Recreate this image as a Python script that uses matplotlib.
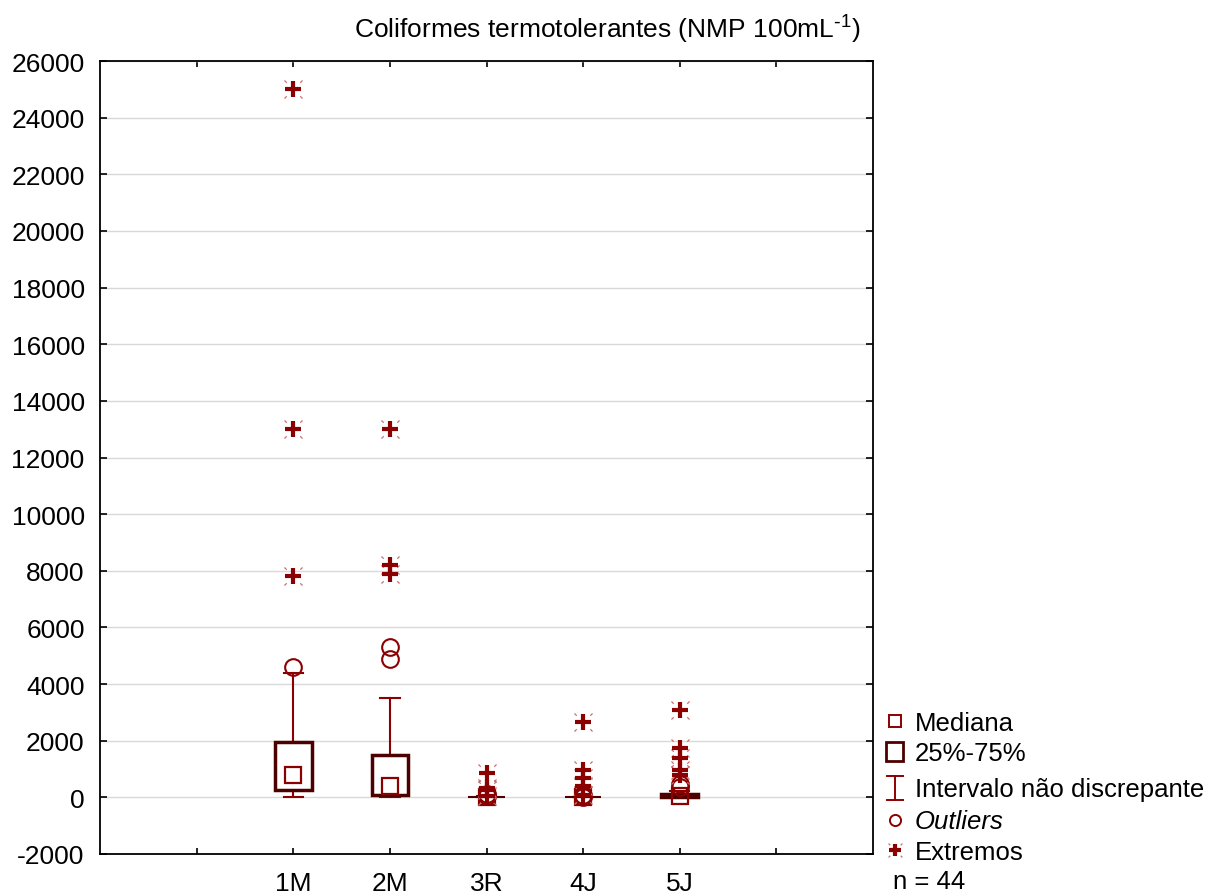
import matplotlib
matplotlib.use("Agg")
import matplotlib.pyplot as plt
from matplotlib.patches import Rectangle
from matplotlib.path import Path

plt.rcParams["font.family"] = ["Liberation Sans", "DejaVu Sans"]
plt.rcParams["mathtext.default"] = "regular"
plt.rcParams["axes.unicode_minus"] = False

# ----------------------------
# Data
# ----------------------------
categories = ["1M", "2M", "3R", "4J", "5J"]
medians = [800, 400, 10, 5, 60]
q1 = [260, 80, 0, 0, 15]
q3 = [1950, 1500, 0, 0, 125]
whisk_lo = [20, 20, 0, 0, 0]
whisk_hi = [4400, 3500, 60, 30, 220]
outliers = [[4600], [5300, 4900], [110, 40], [100, 30], [470, 380]]
extremes = [
    [25000, 13000, 7800],
    [13000, 8200, 7900],
    [850, 320, 250, 40],
    [2650, 950, 670, 390, 80],
    [3100, 1750, 1400, 950, 780],
]
n_total = 44

ylim = (-2000, 26000)
yticks = list(range(-2000, 26001, 2000))

RED = "#8b0000"
DARK = "#4d0000"
DOTS = "#c87070"
FS = 19

# dotted-corner part of the "extremes" marker
corner = Path(
    [(0.75, 0.75), (1, 1), (-0.75, 0.75), (-1, 1), (0.75, -0.75), (1, -1), (-0.75, -0.75), (-1, -1)],
    [Path.MOVETO, Path.LINETO] * 4,
)


def extreme_marker(ax, xs, ys, size=13, **kw):
    ax.plot(xs, ys, ls="none", marker=corner, ms=size, mec=DOTS, mew=0.9, **kw)
    ax.plot(xs, ys, ls="none", marker="+", ms=size - 1, mec=RED, mew=3, **kw)


fig = plt.figure(figsize=(12.09, 8.95), dpi=100)
ax = fig.add_axes([100 / 1209, 40 / 895, 773 / 1209, 793 / 895])

box_w = 0.38
cap_w = 0.2
for i, name in enumerate(categories):
    x = i + 1
    # whiskers
    ax.plot([x, x], [q3[i], whisk_hi[i]], color=RED, lw=1.5, zorder=3)
    ax.plot([x, x], [whisk_lo[i], q1[i]], color=RED, lw=1.5, zorder=3)
    ax.plot([x - cap_w / 2, x + cap_w / 2], [whisk_hi[i]] * 2, color=RED, lw=1.5, zorder=3)
    ax.plot([x - cap_w / 2, x + cap_w / 2], [whisk_lo[i]] * 2, color=RED, lw=1.5, zorder=3)
    # box (collapsed boxes drawn as a thin line)
    lw = 2.5 if q3[i] > q1[i] else 1.5
    ax.add_patch(Rectangle((x - box_w / 2, q1[i]), box_w, q3[i] - q1[i],
                           fc="white", ec=DARK, lw=lw, zorder=4))
    # median
    ax.plot([x], [medians[i]], ls="none", marker="s", ms=11, mfc="none",
            mec=RED, mew=1.6, zorder=5)
    # outliers
    ax.plot([x] * len(outliers[i]), outliers[i], ls="none", marker="o", ms=12,
            mfc="none", mec=RED, mew=1.5, zorder=5)
    # extremes
    extreme_marker(ax, [x] * len(extremes[i]), extremes[i], zorder=6)

ax.set_xlim(-1, 7)
ax.set_xticks(range(0, 7))
ax.set_xticklabels([""] + categories + [""])
ax.set_ylim(*ylim)
ax.set_yticks(yticks)
ax.set_yticklabels([str(v) for v in yticks])
ax.yaxis.grid(True, color="#d9d9d9", lw=1)
ax.set_axisbelow(True)
ax.tick_params(direction="in", top=True, right=True, labelsize=FS, width=1.2, color="black")
ax.tick_params(axis="x", length=4, pad=12)
ax.tick_params(axis="y", length=5, pad=11)
for s in ax.spines.values():
    s.set_linewidth(1.3)

fig.text(0.502, 1 - 30 / 895, r"Coliformes termotolerantes (NMP 100mL$^{\text{-}1}$)",
         ha="center", va="center", fontsize=FS)

# ----------------------------
# Legend (drawn in pixel space)
# ----------------------------
lg = fig.add_axes([0, 0, 1, 1])
lg.set_xlim(0, 1209)
lg.set_ylim(895, 0)
lg.axis("off")

LFS = 18.5
lx, tx = 895, 915
lg.plot([lx], [722], marker="s", ms=9, mfc="none", mec=RED, mew=1.4)
lg.text(tx, 724, "Mediana", va="center", fontsize=LFS)

lg.add_patch(Rectangle((lx - 9, 743), 17, 19, fc="white", ec=DARK, lw=2))
lg.text(tx, 754, "25%-75%", va="center", fontsize=LFS)

lg.plot([lx, lx], [777, 801], color=RED, lw=1.4)
lg.plot([lx - 8, lx + 8], [777, 777], color=RED, lw=1.4)
lg.plot([lx - 8, lx + 8], [801, 801], color=RED, lw=1.4)
lg.text(tx, 790, "Intervalo não discrepante", va="center", fontsize=LFS)

lg.plot([lx], [821], marker="o", ms=8, mfc="none", mec=RED, mew=1.4)
lg.text(tx, 822, "Outliers", va="center", fontsize=LFS, style="italic")

extreme_marker(lg, [lx], [851], size=10)
lg.text(tx, 853, "Extremos", va="center", fontsize=LFS)

lg.text(893, 882, f"n = {n_total}", va="center", fontsize=LFS)

fig.savefig("out.png", dpi=100)
